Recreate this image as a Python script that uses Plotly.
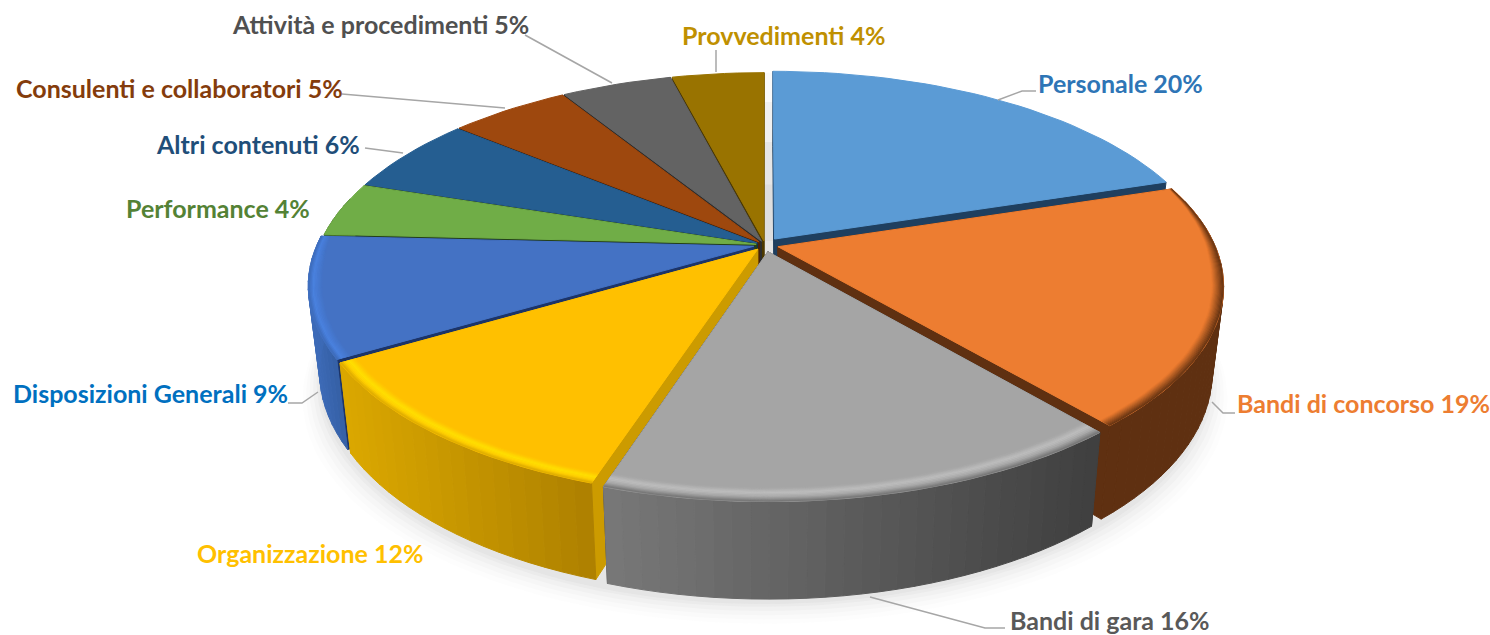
import math
import plotly.graph_objects as go

categories = ["Personale", "Bandi di concorso", "Bandi di gara", "Organizzazione",
              "Disposizioni Generali", "Performance", "Altri contenuti",
              "Consulenti e collaboratori", "Attività e procedimenti", "Provvedimenti"]
values = [20.1, 18.7, 16.2, 11.5, 9.3, 4.2, 6, 5.2, 4.8, 4]
top_colors = ["#5B9BD5", "#ED7D31", "#A5A5A5", "#FFC000", "#4472C4",
              "#70AD47", "#255E91", "#9E480E", "#636363", "#997300"]
cut_colors = ["#1F3F5F", "#5F3011", "#3F3F3F", "#CC9B00", "#1C3468",
              "#24401A", "#122E48", "#4A2207", "#2E2E2E", "#4D3A00"]
wall_left = ["#2F5F8F", "#5F3011", "#787878", "#DBA800", "#3D6BB8",
             "#45702C", "#1A4468", "#6E320A", "#454545", "#6B5000"]
wall_right = ["#2F5F8F", "#5F3011", "#3F3F3F", "#AD8000", "#3560A5",
              "#45702C", "#1A4468", "#6E320A", "#454545", "#6B5000"]
explode = [0.036, 0.030, 0.033, 0.026, 0.026, 0.020, 0.020, 0.020, 0.020, 0.020]
label_colors = ["#2E75B6", "#ED7D31", "#595959", "#FFC000", "#0070C0",
                "#548235", "#1F4E79", "#843C0C", "#505050", "#BF9000"]

# Layout of the pie projection
CX, CY, A, B, P, K, DEPTH, SHRINK = 765, 245, 448, 206, 0.19, 0.975, 84, 0.975
# Layout of labels
label_x = [1120, 1363, 1110, 310, 150, 218, 258, 179, 380, 783]
label_y = [83, 403, 620, 553, 393, 208, 144, 88, 24, 35]
leaders = [[(998, 100), (1022, 91), (1036, 91)],
           [(1212, 402), (1223, 413), (1235, 413)],
           [(870, 597), (985, 628), (1005, 628)],
           None,
           [(318, 392), (302, 403), (288, 403)],
           None,
           [(365, 148), (403, 153)],
           [(342, 94), (505, 108)],
           [(525, 35), (612, 83)],
           [(716, 50), (716, 72)]]
# bevel: stops of (radius fraction, colour) from the outer edge inward
rim_stops = {
    1: [(1.0, "#5F3011"), (0.975, "#ED7D31")],
    2: [(1.0, "#717171"), (0.985, "#A8A8A8"), (0.972, "#BEBEBE"), (0.955, "#A5A5A5")],
    3: [(1.0, "#DBA800"), (0.99, "#FFD000"), (0.98, "#FFE000"), (0.965, "#FFC000")],
    4: [(1.0, "#3D6BB8"), (0.99, "#4A82E0"), (0.97, "#4472C4")],
}


def project(x, y):
    d = 1 + P * y
    return CX + A * x / d, CY - B * y / d, d


def lower(px, py, d):
    return CX + (px - CX) * SHRINK, CY + (py - CY) * SHRINK + DEPTH / d


def mix(c0, c1, t):
    t = max(0.0, min(1.0, t))
    a = [int(c0[i:i + 2], 16) for i in (1, 3, 5)]
    b = [int(c1[i:i + 2], 16) for i in (1, 3, 5)]
    return "#%02X%02X%02X" % tuple(round(a[i] + (b[i] - a[i]) * t) for i in range(3))


fig = go.Figure()


def poly(xs, ys, color, opacity=1.0, edge=1.0):
    fig.add_trace(go.Scatter(x=list(xs) + [xs[0]], y=list(ys) + [ys[0]], mode="lines",
                             fill="toself", fillcolor=color,
                             line=dict(color=color, width=edge), opacity=opacity,
                             hoverinfo="skip", showlegend=False))


def line(xs, ys, color, width):
    fig.add_trace(go.Scatter(x=xs, y=ys, mode="lines", line=dict(color=color, width=width),
                             hoverinfo="skip", showlegend=False))


# soft shadow under the pie
for grow, op in [(30, 0.02), (24, 0.025), (18, 0.03), (12, 0.04), (6, 0.05), (2, 0.06)]:
    sx, sy = [], []
    for i in range(181):
        t = math.radians(i * 2)
        px, py, d = project(math.sin(t), math.cos(t))
        lx, ly = lower(px, py, d)
        sx.append(lx + (lx - CX) / 460 * grow * 0.6)
        sy.append(ly + 6 + grow * 0.7)
    poly(sx, sy, "#808080", op, 0)

total = sum(values)
spans = []
run = 0.0
for v in values:
    spans.append((run / total * 2 * math.pi, (run + v) / total * 2 * math.pi))
    run += v

order = sorted(range(len(values)),
               key=lambda i: -math.cos((spans[i][0] + spans[i][1]) / 2))


def slice_point(i, t, r):
    mid = (spans[i][0] + spans[i][1]) / 2
    return project(K * r * math.sin(t) + explode[i] * math.sin(mid),
                   K * r * math.cos(t) + explode[i] * math.cos(mid))


def rim_color(stops, r):
    for (r0, c0), (r1, c1) in zip(stops, stops[1:]):
        if r <= r0 and r >= r1:
            return mix(c0, c1, (r0 - r) / (r0 - r1))
    return stops[-1][1]


def rim_taper(t):
    # the bevel narrows to nothing towards the back of the pie
    return max(0.0, min(1.0, (0.45 - math.cos(t)) / 0.55))


# faint shadow in the gap between the first and the last slice
for r0, r1, col in [(0, 0.3, "#DEDEDE"), (0.3, 0.55, "#E6E6E6"), (0.55, 0.8, "#F0F0F0"), (0.8, 1, "#FAFAFA")]:
    a0, a1 = slice_point(9, spans[9][1], r0), slice_point(9, spans[9][1], r1)
    b0, b1 = slice_point(0, 0, r0), slice_point(0, 0, r1)
    poly([a0[0], a1[0], b1[0], b0[0]], [a0[1], a1[1], a1[1], a0[1]], col, 1, 0)

for i in order:
    t0, t1 = spans[i]
    n = max(4, int((t1 - t0) / math.radians(2)))
    ts = [t0 + (t1 - t0) * j / n for j in range(n + 1)]
    apex = slice_point(i, 0, 0)
    apex_low = lower(*apex)
    # cut faces
    for t in (t0, t1):
        p = slice_point(i, t, 1)
        q = lower(*p)
        poly([apex[0], p[0], q[0], apex_low[0]], [apex[1], p[1], q[1], apex_low[1]], cut_colors[i])
    # outer wall, in narrow vertical strips for the shading
    pts = [slice_point(i, t, 1) for t in ts]
    lows = [lower(*p) for p in pts]
    xmin, xmax = min(p[0] for p in pts), max(p[0] for p in pts)
    for j in range(n):
        if math.cos((ts[j] + ts[j + 1]) / 2) > 0.25:
            continue
        xm = (pts[j][0] + pts[j + 1][0]) / 2
        col = mix(wall_left[i], wall_right[i], (xm - xmin) / max(1, xmax - xmin))
        poly([pts[j][0], pts[j + 1][0], lows[j + 1][0], lows[j][0]],
             [pts[j][1], pts[j + 1][1], lows[j + 1][1], lows[j][1]], col)
    # top face
    poly([apex[0]] + [p[0] for p in pts], [apex[1]] + [p[1] for p in pts], top_colors[i])
    # bevel at the rim, painted from the inside outward
    if i in rim_stops:
        stops = rim_stops[i]
        inner_r = stops[-1][0]
        steps = 10
        visible = [t for t in ts if rim_taper(t) > 0]
        for s in range(steps):
            f_in = 1 - s / steps
            f_out = 1 - (s + 1) / steps
            inner = [slice_point(i, t, 1 - (1 - inner_r) * f_in * rim_taper(t)) for t in visible]
            outer = [slice_point(i, t, 1 - (1 - inner_r) * f_out * rim_taper(t)) for t in visible]
            col = rim_color(stops, 1 - (1 - inner_r) * (f_in + f_out) / 2)
            poly([p[0] for p in inner] + [p[0] for p in outer[::-1]],
                 [p[1] for p in inner] + [p[1] for p in outer[::-1]], col, 1, 0.5)

# leader lines
for path in leaders:
    if path:
        line([p[0] for p in path], [p[1] for p in path], "#A6A6A6", 1.5)

# labels
for name, v, c, x, y in zip(categories, values, label_colors, label_x, label_y):
    fig.add_annotation(x=x, y=y, text=f"<b>{name} {round(v)}%</b>", showarrow=False,
                       font=dict(family="Lato", size=25, color=c), xanchor="center", yanchor="middle")

fig.update_layout(width=1490, height=635, margin=dict(l=0, r=0, t=0, b=0),
                  paper_bgcolor="white", plot_bgcolor="white", showlegend=False,
                  xaxis=dict(range=[0, 1490], visible=False, fixedrange=True),
                  yaxis=dict(range=[635, 0], visible=False, fixedrange=True))
fig.write_html("out.html", config={"displayModeBar": False},
               post_script="document.body.style.margin='0';")
